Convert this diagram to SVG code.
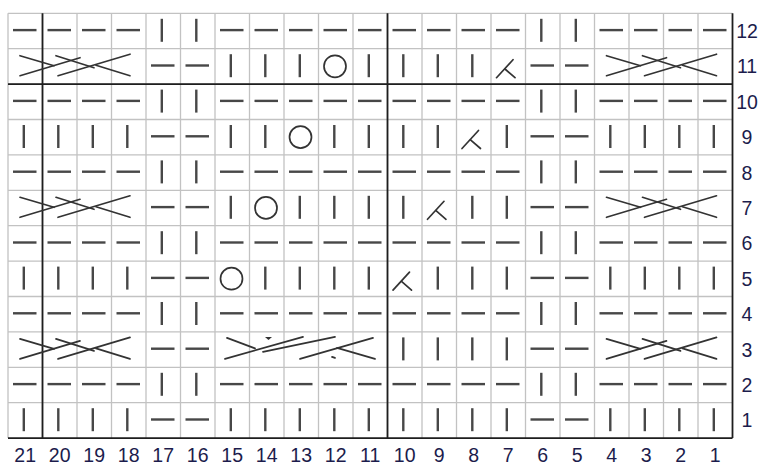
<svg xmlns="http://www.w3.org/2000/svg" width="762" height="465" viewBox="0 0 762 465">
<style>
.g{stroke:#c2c2c2;stroke-width:1.3;fill:none}
.b{stroke:#1e1e1e;stroke-width:1.8;fill:none}
.s{stroke:#474747;stroke-width:2.4;stroke-linecap:butt;fill:none}
.c{stroke:#333;stroke-width:1.7;stroke-linecap:round;fill:none}
.t{font-family:"Liberation Sans",Arial,sans-serif;font-size:19.5px;fill:#1c1c4c;text-anchor:middle}
</style>
<defs>
<line id="p" class="s" x1="5" y1="16.8" x2="28.5" y2="16.8"/>
<line id="k" class="s" x1="15.8" y1="5.5" x2="15.8" y2="28.5"/>
<circle id="o" class="c" cx="16.5" cy="17.6" r="11"/>
<g id="d" class="c"><line x1="5.5" y1="29" x2="22" y2="11"/><line x1="14" y1="20.3" x2="24" y2="29"/></g>
<g id="c4" class="c">
<line x1="12" y1="27" x2="72" y2="9"/>
<line x1="12" y1="7" x2="46" y2="17"/>
<line x1="48" y1="7" x2="86" y2="19"/>
<line x1="50" y1="27" x2="122" y2="5.5"/>
<line x1="88" y1="16.5" x2="122" y2="27"/>
</g>
<g id="c5" class="c">
<line x1="12" y1="6" x2="40" y2="16.5"/>
<line x1="10" y1="27" x2="88" y2="5"/>
<line x1="48" y1="20" x2="120" y2="5"/>
<line x1="85" y1="27" x2="158" y2="6"/>
<line x1="122" y1="16" x2="160" y2="27"/>
<path d="M50,5 L57,5 L53.5,8 Z" fill="#333" stroke="none"/>
<line x1="117" y1="25" x2="120" y2="26"/>
</g>
</defs>
<rect width="762" height="465" fill="#fff"/>
<g id="grid" class="g">
<path d="M8,13.3V438.1M42.5,13.3V438.1M77,13.3V438.1M111.5,13.3V438.1M146,13.3V438.1M180.5,13.3V438.1M215,13.3V438.1M249.5,13.3V438.1M284,13.3V438.1M318.5,13.3V438.1M353,13.3V438.1M387.5,13.3V438.1M422,13.3V438.1M456.5,13.3V438.1M491,13.3V438.1M525.5,13.3V438.1M560,13.3V438.1M594.5,13.3V438.1M629,13.3V438.1M663.5,13.3V438.1M698,13.3V438.1"/>
<path d="M8,13.3H732.5M8,48.7H732.5M8,84.1H732.5M8,119.5H732.5M8,154.9H732.5M8,190.3H732.5M8,225.7H732.5M8,261.1H732.5M8,296.5H732.5M8,331.9H732.5M8,367.3H732.5M8,402.7H732.5"/>
</g>
<g id="bold" class="b">
<path d="M42.5,13.3V438.1M387.5,13.3V438.1M732.5,13.3V438.1M8,84.1H732.5M8,438.1H732.5"/>
</g>
<g id="row12">
<use href="#p" x="8" y="13.3"/><use href="#p" x="42.5" y="13.3"/><use href="#p" x="77" y="13.3"/><use href="#p" x="111.5" y="13.3"/>
<use href="#k" x="146" y="13.3"/><use href="#k" x="180.5" y="13.3"/>
<use href="#p" x="215" y="13.3"/><use href="#p" x="249.5" y="13.3"/><use href="#p" x="284" y="13.3"/><use href="#p" x="318.5" y="13.3"/><use href="#p" x="353" y="13.3"/><use href="#p" x="387.5" y="13.3"/><use href="#p" x="422" y="13.3"/><use href="#p" x="456.5" y="13.3"/><use href="#p" x="491" y="13.3"/>
<use href="#k" x="525.5" y="13.3"/><use href="#k" x="560" y="13.3"/>
<use href="#p" x="594.5" y="13.3"/><use href="#p" x="629" y="13.3"/><use href="#p" x="663.5" y="13.3"/><use href="#p" x="698" y="13.3"/>
</g>
<g id="row11">
<use href="#c4" x="8" y="48.7"/>
<use href="#p" x="146" y="48.7"/><use href="#p" x="180.5" y="48.7"/>
<use href="#k" x="215" y="48.7"/><use href="#k" x="249.5" y="48.7"/><use href="#k" x="284" y="48.7"/>
<use href="#o" x="318.5" y="48.7"/>
<use href="#k" x="353" y="48.7"/><use href="#k" x="387.5" y="48.7"/><use href="#k" x="422" y="48.7"/><use href="#k" x="456.5" y="48.7"/>
<use href="#d" x="491" y="48.7"/>
<use href="#p" x="525.5" y="48.7"/><use href="#p" x="560" y="48.7"/>
<use href="#c4" x="594.5" y="48.7"/>
</g>
<g id="row10">
<use href="#p" x="8" y="84.1"/><use href="#p" x="42.5" y="84.1"/><use href="#p" x="77" y="84.1"/><use href="#p" x="111.5" y="84.1"/>
<use href="#k" x="146" y="84.1"/><use href="#k" x="180.5" y="84.1"/>
<use href="#p" x="215" y="84.1"/><use href="#p" x="249.5" y="84.1"/><use href="#p" x="284" y="84.1"/><use href="#p" x="318.5" y="84.1"/><use href="#p" x="353" y="84.1"/><use href="#p" x="387.5" y="84.1"/><use href="#p" x="422" y="84.1"/><use href="#p" x="456.5" y="84.1"/><use href="#p" x="491" y="84.1"/>
<use href="#k" x="525.5" y="84.1"/><use href="#k" x="560" y="84.1"/>
<use href="#p" x="594.5" y="84.1"/><use href="#p" x="629" y="84.1"/><use href="#p" x="663.5" y="84.1"/><use href="#p" x="698" y="84.1"/>
</g>
<g id="row9">
<use href="#k" x="8" y="119.5"/><use href="#k" x="42.5" y="119.5"/><use href="#k" x="77" y="119.5"/><use href="#k" x="111.5" y="119.5"/>
<use href="#p" x="146" y="119.5"/><use href="#p" x="180.5" y="119.5"/>
<use href="#k" x="215" y="119.5"/><use href="#k" x="249.5" y="119.5"/>
<use href="#o" x="284" y="119.5"/>
<use href="#k" x="318.5" y="119.5"/><use href="#k" x="353" y="119.5"/><use href="#k" x="387.5" y="119.5"/><use href="#k" x="422" y="119.5"/>
<use href="#d" x="456.5" y="119.5"/>
<use href="#k" x="491" y="119.5"/>
<use href="#p" x="525.5" y="119.5"/><use href="#p" x="560" y="119.5"/>
<use href="#k" x="594.5" y="119.5"/><use href="#k" x="629" y="119.5"/><use href="#k" x="663.5" y="119.5"/><use href="#k" x="698" y="119.5"/>
</g>
<g id="row8">
<use href="#p" x="8" y="154.9"/><use href="#p" x="42.5" y="154.9"/><use href="#p" x="77" y="154.9"/><use href="#p" x="111.5" y="154.9"/>
<use href="#k" x="146" y="154.9"/><use href="#k" x="180.5" y="154.9"/>
<use href="#p" x="215" y="154.9"/><use href="#p" x="249.5" y="154.9"/><use href="#p" x="284" y="154.9"/><use href="#p" x="318.5" y="154.9"/><use href="#p" x="353" y="154.9"/><use href="#p" x="387.5" y="154.9"/><use href="#p" x="422" y="154.9"/><use href="#p" x="456.5" y="154.9"/><use href="#p" x="491" y="154.9"/>
<use href="#k" x="525.5" y="154.9"/><use href="#k" x="560" y="154.9"/>
<use href="#p" x="594.5" y="154.9"/><use href="#p" x="629" y="154.9"/><use href="#p" x="663.5" y="154.9"/><use href="#p" x="698" y="154.9"/>
</g>
<g id="row7">
<use href="#c4" x="8" y="190.3"/>
<use href="#p" x="146" y="190.3"/><use href="#p" x="180.5" y="190.3"/>
<use href="#k" x="215" y="190.3"/>
<use href="#o" x="249.5" y="190.3"/>
<use href="#k" x="284" y="190.3"/><use href="#k" x="318.5" y="190.3"/><use href="#k" x="353" y="190.3"/><use href="#k" x="387.5" y="190.3"/>
<use href="#d" x="422" y="190.3"/>
<use href="#k" x="456.5" y="190.3"/><use href="#k" x="491" y="190.3"/>
<use href="#p" x="525.5" y="190.3"/><use href="#p" x="560" y="190.3"/>
<use href="#c4" x="594.5" y="190.3"/>
</g>
<g id="row6">
<use href="#p" x="8" y="225.7"/><use href="#p" x="42.5" y="225.7"/><use href="#p" x="77" y="225.7"/><use href="#p" x="111.5" y="225.7"/>
<use href="#k" x="146" y="225.7"/><use href="#k" x="180.5" y="225.7"/>
<use href="#p" x="215" y="225.7"/><use href="#p" x="249.5" y="225.7"/><use href="#p" x="284" y="225.7"/><use href="#p" x="318.5" y="225.7"/><use href="#p" x="353" y="225.7"/><use href="#p" x="387.5" y="225.7"/><use href="#p" x="422" y="225.7"/><use href="#p" x="456.5" y="225.7"/><use href="#p" x="491" y="225.7"/>
<use href="#k" x="525.5" y="225.7"/><use href="#k" x="560" y="225.7"/>
<use href="#p" x="594.5" y="225.7"/><use href="#p" x="629" y="225.7"/><use href="#p" x="663.5" y="225.7"/><use href="#p" x="698" y="225.7"/>
</g>
<g id="row5">
<use href="#k" x="8" y="261.1"/><use href="#k" x="42.5" y="261.1"/><use href="#k" x="77" y="261.1"/><use href="#k" x="111.5" y="261.1"/>
<use href="#p" x="146" y="261.1"/><use href="#p" x="180.5" y="261.1"/>
<use href="#o" x="215" y="261.1"/>
<use href="#k" x="249.5" y="261.1"/><use href="#k" x="284" y="261.1"/><use href="#k" x="318.5" y="261.1"/><use href="#k" x="353" y="261.1"/>
<use href="#d" x="387.5" y="261.1"/>
<use href="#k" x="422" y="261.1"/><use href="#k" x="456.5" y="261.1"/><use href="#k" x="491" y="261.1"/>
<use href="#p" x="525.5" y="261.1"/><use href="#p" x="560" y="261.1"/>
<use href="#k" x="594.5" y="261.1"/><use href="#k" x="629" y="261.1"/><use href="#k" x="663.5" y="261.1"/><use href="#k" x="698" y="261.1"/>
</g>
<g id="row4">
<use href="#p" x="8" y="296.5"/><use href="#p" x="42.5" y="296.5"/><use href="#p" x="77" y="296.5"/><use href="#p" x="111.5" y="296.5"/>
<use href="#k" x="146" y="296.5"/><use href="#k" x="180.5" y="296.5"/>
<use href="#p" x="215" y="296.5"/><use href="#p" x="249.5" y="296.5"/><use href="#p" x="284" y="296.5"/><use href="#p" x="318.5" y="296.5"/><use href="#p" x="353" y="296.5"/><use href="#p" x="387.5" y="296.5"/><use href="#p" x="422" y="296.5"/><use href="#p" x="456.5" y="296.5"/><use href="#p" x="491" y="296.5"/>
<use href="#k" x="525.5" y="296.5"/><use href="#k" x="560" y="296.5"/>
<use href="#p" x="594.5" y="296.5"/><use href="#p" x="629" y="296.5"/><use href="#p" x="663.5" y="296.5"/><use href="#p" x="698" y="296.5"/>
</g>
<g id="row3">
<use href="#c4" x="8" y="331.9"/>
<use href="#p" x="146" y="331.9"/><use href="#p" x="180.5" y="331.9"/>
<use href="#c5" x="215" y="331.9"/>
<use href="#k" x="387.5" y="331.9"/><use href="#k" x="422" y="331.9"/><use href="#k" x="456.5" y="331.9"/><use href="#k" x="491" y="331.9"/>
<use href="#p" x="525.5" y="331.9"/><use href="#p" x="560" y="331.9"/>
<use href="#c4" x="594.5" y="331.9"/>
</g>
<g id="row2">
<use href="#p" x="8" y="367.3"/><use href="#p" x="42.5" y="367.3"/><use href="#p" x="77" y="367.3"/><use href="#p" x="111.5" y="367.3"/>
<use href="#k" x="146" y="367.3"/><use href="#k" x="180.5" y="367.3"/>
<use href="#p" x="215" y="367.3"/><use href="#p" x="249.5" y="367.3"/><use href="#p" x="284" y="367.3"/><use href="#p" x="318.5" y="367.3"/><use href="#p" x="353" y="367.3"/><use href="#p" x="387.5" y="367.3"/><use href="#p" x="422" y="367.3"/><use href="#p" x="456.5" y="367.3"/><use href="#p" x="491" y="367.3"/>
<use href="#k" x="525.5" y="367.3"/><use href="#k" x="560" y="367.3"/>
<use href="#p" x="594.5" y="367.3"/><use href="#p" x="629" y="367.3"/><use href="#p" x="663.5" y="367.3"/><use href="#p" x="698" y="367.3"/>
</g>
<g id="row1">
<use href="#k" x="8" y="402.7"/><use href="#k" x="42.5" y="402.7"/><use href="#k" x="77" y="402.7"/><use href="#k" x="111.5" y="402.7"/>
<use href="#p" x="146" y="402.7"/><use href="#p" x="180.5" y="402.7"/>
<use href="#k" x="215" y="402.7"/><use href="#k" x="249.5" y="402.7"/><use href="#k" x="284" y="402.7"/><use href="#k" x="318.5" y="402.7"/><use href="#k" x="353" y="402.7"/><use href="#k" x="387.5" y="402.7"/><use href="#k" x="422" y="402.7"/><use href="#k" x="456.5" y="402.7"/><use href="#k" x="491" y="402.7"/>
<use href="#p" x="525.5" y="402.7"/><use href="#p" x="560" y="402.7"/>
<use href="#k" x="594.5" y="402.7"/><use href="#k" x="629" y="402.7"/><use href="#k" x="663.5" y="402.7"/><use href="#k" x="698" y="402.7"/>
</g>
<g id="row-labels" class="t">
<text x="747" y="38">12</text><text x="747" y="73.4">11</text><text x="747" y="108.8">10</text><text x="747" y="144.2">9</text><text x="747" y="179.6">8</text><text x="747" y="215">7</text><text x="747" y="250.4">6</text><text x="747" y="285.8">5</text><text x="747" y="321.2">4</text><text x="747" y="356.6">3</text><text x="747" y="392">2</text><text x="747" y="427.4">1</text>
</g>
<g id="col-labels" class="t">
<text x="25.2" y="462">21</text><text x="59.7" y="462">20</text><text x="94.2" y="462">19</text><text x="128.7" y="462">18</text><text x="163.2" y="462">17</text><text x="197.7" y="462">16</text><text x="232.2" y="462">15</text><text x="266.7" y="462">14</text><text x="301.2" y="462">13</text><text x="335.7" y="462">12</text><text x="370.2" y="462">11</text><text x="404.7" y="462">10</text><text x="439.2" y="462">9</text><text x="473.7" y="462">8</text><text x="508.2" y="462">7</text><text x="542.7" y="462">6</text><text x="577.2" y="462">5</text><text x="611.7" y="462">4</text><text x="646.2" y="462">3</text><text x="680.7" y="462">2</text><text x="715.2" y="462">1</text>
</g>
</svg>
